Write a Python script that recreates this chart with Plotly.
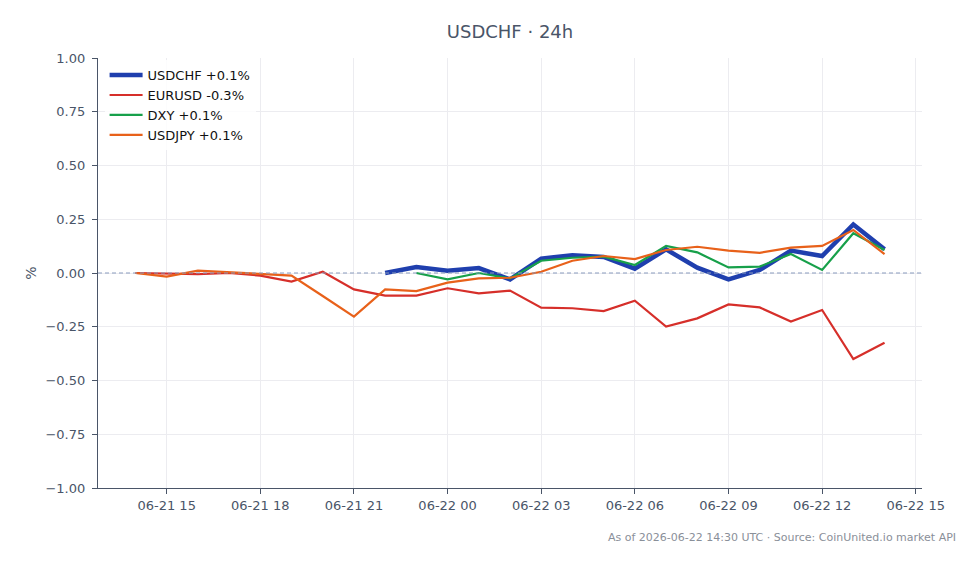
import plotly.graph_objects as go
import pandas as pd

times = pd.date_range("2026-06-21 14:00", "2026-06-22 14:00", freq="h")

usdchf = [None, None, None, None, None, None, None, None,
          0.0, 0.028, 0.010, 0.023, -0.030, 0.067, 0.083, 0.075, 0.020,
          0.110, 0.025, -0.030, 0.014, 0.104, 0.079, 0.226, 0.110]
eurusd = [0.0, -0.003, -0.005, 0.0, -0.012, -0.040, 0.006, -0.076,
          -0.105, -0.105, -0.071, -0.095, -0.082, -0.161, -0.164, -0.177, -0.129,
          -0.249, -0.211, -0.146, -0.160, -0.226, -0.172, -0.400, -0.324]
dxy = [None, None, None, None, None, None, None, None,
       None, 0.0, -0.030, 0.0, -0.025, 0.057, 0.071, 0.076, 0.037,
       0.126, 0.096, 0.026, 0.030, 0.088, 0.014, 0.185, 0.107]
usdjpy = [0.0, -0.017, 0.011, 0.003, -0.006, -0.012, -0.107, -0.203,
          -0.076, -0.084, -0.045, -0.025, -0.022, 0.006, 0.057, 0.079, 0.065,
          0.107, 0.122, 0.104, 0.094, 0.118, 0.126, 0.200, 0.088]

names = ["USDCHF +0.1%", "EURUSD -0.3%", "DXY +0.1%", "USDJPY +0.1%"]
colors = ["#1f3fae", "#d62f2a", "#17a04a", "#e8611a"]
widths = [4.5, 2.2, 2.2, 2.2]
series = [usdchf, eurusd, dxy, usdjpy]

fig = go.Figure()
for name, col, w, ys in zip(names, colors, widths, series):
    fig.add_trace(go.Scatter(x=times, y=ys, mode="lines", name=name,
                             line=dict(color=col, width=w), connectgaps=False))

fig.add_hline(y=0, line=dict(color="#8a9bbd", width=1.2, dash="4px,3px"))

axis_color = "#4a5568"
fig.update_layout(
    width=979, height=564,
    margin=dict(l=98, r=57, t=58, b=76),
    paper_bgcolor="white", plot_bgcolor="white",
    font=dict(family="DejaVu Sans", color=axis_color, size=13),
    title=dict(text="USDCHF · 24h", x=0.5, xref="paper", y=0.943, yref="container",
               xanchor="center", yanchor="middle",
               font=dict(size=18, color=axis_color)),
    showlegend=True,
    legend=dict(x=0.008, y=0.995, xanchor="left", yanchor="top",
                bgcolor="rgba(255,255,255,0.85)", font=dict(size=13, color="#111"),
                itemwidth=33, tracegroupgap=0),
    xaxis=dict(range=["2026-06-21 12:48", "2026-06-22 15:12"],
               tickformat="%m-%d %H", dtick=3 * 3600 * 1000,
               tick0="2026-06-21 00:00",
               showgrid=True, gridcolor="#ececf0", gridwidth=1,
               showline=True, linecolor=axis_color, linewidth=1.2,
               ticks="outside", ticklen=5, tickcolor=axis_color,
               zeroline=False, tickfont=dict(size=13, color=axis_color)),
    yaxis=dict(range=[-1, 1], dtick=0.25, tickformat=".2f",
               title=dict(text="%", font=dict(size=14, color=axis_color), standoff=5),
               showgrid=True, gridcolor="#ececf0", gridwidth=1,
               showline=True, linecolor=axis_color, linewidth=1.2,
               ticks="outside", ticklen=5, tickcolor=axis_color,
               ticklabelstandoff=4,
               zeroline=False, tickfont=dict(size=13, color=axis_color)),
    annotations=[dict(text="As of 2026-06-22 14:30 UTC · Source: CoinUnited.io market API",
                      xref="paper", yref="paper", x=1.044, y=-0.115,
                      xanchor="right", yanchor="middle", showarrow=False,
                      font=dict(size=11, color="#8a8f99"))],
)

fig.write_html("out.html")
